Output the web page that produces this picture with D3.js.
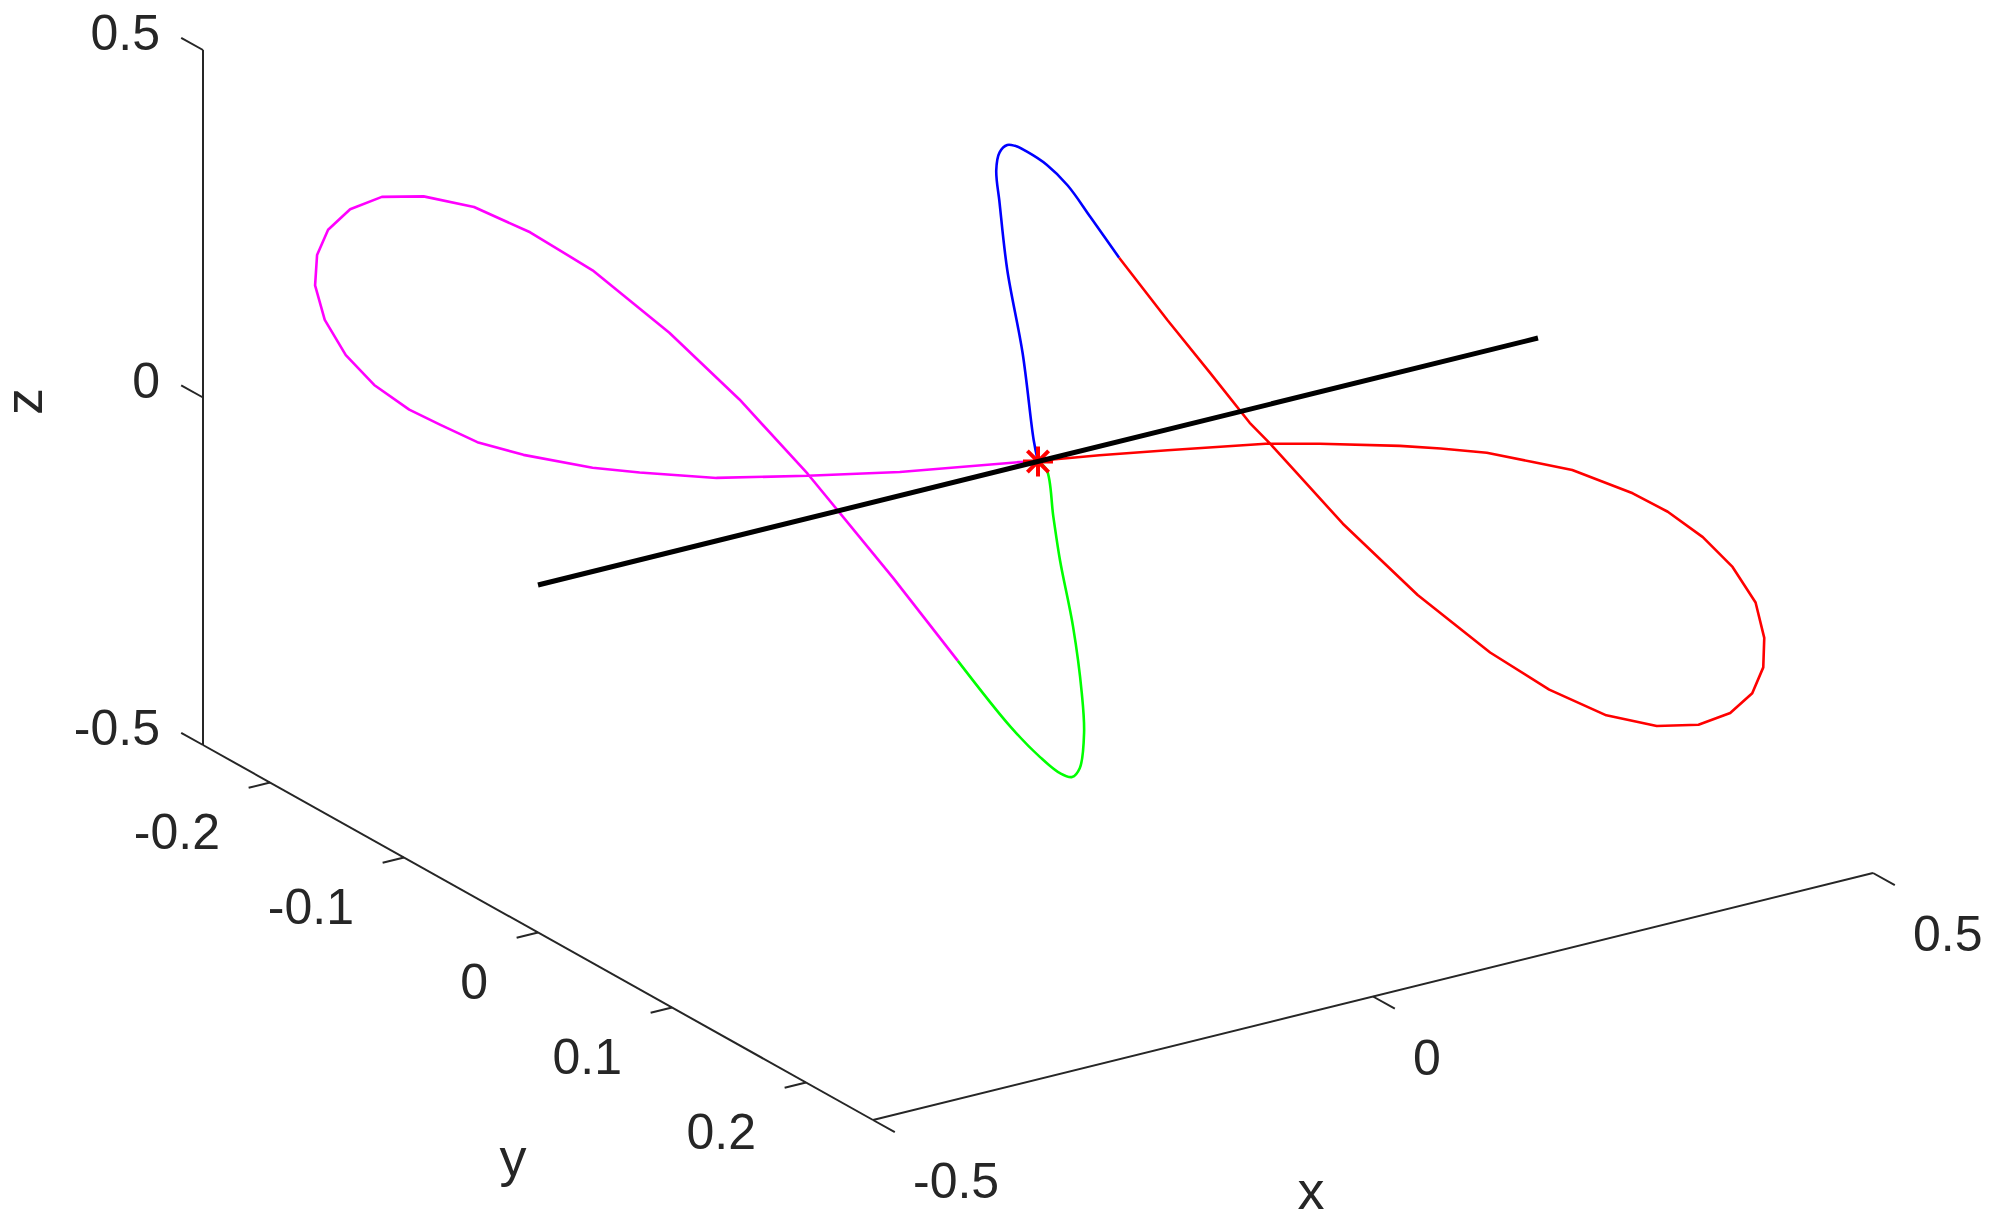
<!DOCTYPE html>
<html>
<head>
<meta charset="utf-8">
<script src="https://cdn.jsdelivr.net/npm/d3@7"></script>
<style>
  body { margin: 0; background: #fff; }
  text { font-family: "Liberation Sans", Arial, sans-serif; fill: #262626; }
</style>
</head>
<body>
<svg id="chart" width="2000" height="1221"></svg>
<script>
// ticks
var xTicks = [-0.5, 0, 0.5];
var yTicks = [-0.2, -0.1, 0, 0.1, 0.2];
var zTicks = [-0.5, 0, 0.5];

// curve (depth is a guess, the view only fixes 2 of 3 coords)
var blueX = [0, -0.003, -0.010, -0.020, -0.025, -0.027, -0.025, -0.020, -0.015, -0.007, 0.006, 0.019, 0.034, 0.053];
var blueY = [0, -0.001, -0.004, -0.008, -0.010, -0.011, -0.010, -0.008, -0.006, -0.003, 0.002, 0.008, 0.014, 0.021];
var blueZ = [0, 0.031, 0.155, 0.274, 0.370, 0.417, 0.443, 0.454, 0.453, 0.445, 0.427, 0.399, 0.354, 0.297];

var redX = [0.053, 0.084, 0.112, 0.138, 0.151, 0.171, 0.199, 0.247, 0.294, 0.333, 0.370, 0.403, 0.430, 0.451, 0.465, 0.472, 0.473, 0.467, 0.452, 0.433, 0.410, 0.387, 0.348, 0.322, 0.292, 0.262, 0.236, 0.184, 0.151, 0.084, 0.040, 0.008, 0];
var redY = [0.021, 0.034, 0.045, 0.055, 0.060, 0.068, 0.079, 0.099, 0.118, 0.133, 0.148, 0.161, 0.172, 0.180, 0.186, 0.189, 0.189, 0.187, 0.181, 0.173, 0.164, 0.155, 0.139, 0.129, 0.117, 0.105, 0.094, 0.073, 0.060, 0.034, 0.016, 0.003, 0];
var redZ = [0.297, 0.210, 0.136, 0.066, 0.038, -0.009, -0.075, -0.173, -0.252, -0.303, -0.337, -0.350, -0.346, -0.328, -0.298, -0.260, -0.218, -0.167, -0.117, -0.076, -0.041, -0.016, 0.014, 0.024, 0.035, 0.039, 0.040, 0.039, 0.037, 0.023, 0.012, 0.003, 0];

var magentaX = [0, -0.012, -0.090, -0.150, -0.209, -0.259, -0.290, -0.335, -0.365, -0.389, -0.409, -0.432, -0.451, -0.464, -0.471, -0.469, -0.462, -0.448, -0.427, -0.400, -0.367, -0.331, -0.290, -0.240, -0.194, -0.150, -0.094, -0.052];
var magentaY = [0, -0.005, -0.036, -0.060, -0.084, -0.104, -0.116, -0.134, -0.146, -0.156, -0.164, -0.173, -0.180, -0.186, -0.188, -0.188, -0.185, -0.179, -0.171, -0.160, -0.147, -0.132, -0.116, -0.096, -0.078, -0.060, -0.038, -0.021];
var magentaZ = [0, -0.002, -0.022, -0.032, -0.040, -0.036, -0.031, -0.016, 0.000, 0.023, 0.043, 0.077, 0.119, 0.168, 0.218, 0.261, 0.298, 0.329, 0.348, 0.351, 0.338, 0.305, 0.253, 0.167, 0.074, -0.029, -0.175, -0.291];

var greenX = [-0.052, -0.018, 0.001, 0.014, 0.022, 0.027, 0.030, 0.029, 0.023, 0.014, 0.010, 0.006, 0];
var greenY = [-0.021, -0.007, 0.001, 0.006, 0.009, 0.011, 0.012, 0.011, 0.009, 0.006, 0.004, 0.002, 0];
var greenZ = [-0.291, -0.383, -0.425, -0.447, -0.452, -0.439, -0.388, -0.331, -0.236, -0.141, -0.079, -0.012, 0];

// black line along x through the origin, and the marked point
var axisLineX = [-0.5, 0.5];
var axisLineY = [0, 0];
var axisLineZ = [0, 0];
var markX = 0, markY = 0, markZ = 0;

var svg = d3.select("#chart");

// fixed 3d view: each coordinate adds a screen offset (from the corner x=-0.5,y=-0.25,z=-0.5)
var corner = [203, 745];
var xH = d3.scaleLinear().domain([-0.5, 0.5]).range([0, 1000]);
var xV = d3.scaleLinear().domain([-0.5, 0.5]).range([0, -247]);
var yH = d3.scaleLinear().domain([-0.25, 0.25]).range([0, 670]);
var yV = d3.scaleLinear().domain([-0.25, 0.25]).range([0, 375]);
var zV = d3.scaleLinear().domain([-0.5, 0.5]).range([0, -695]);

function proj(x, y, z) {
  return [corner[0] + xH(x) + yH(y), corner[1] + xV(x) + yV(y) + zV(z)];
}

function zip(xs, ys, zs) {
  return xs.map(function(d, i) { return proj(d, ys[i], zs[i]); });
}

var line = d3.line();
var smooth = d3.line().curve(d3.curveCatmullRom.alpha(0.5));

// unit directions for the tick marks
var exLen = Math.hypot(xH(0.5) - xH(-0.5), xV(0.5) - xV(-0.5));
var ex = [(xH(0.5) - xH(-0.5)) / exLen, (xV(0.5) - xV(-0.5)) / exLen];
var eyLen = Math.hypot(yH(0.25) - yH(-0.25), yV(0.25) - yV(-0.25));
var ey = [(yH(0.25) - yH(-0.25)) / eyLen, (yV(0.25) - yV(-0.25)) / eyLen];
var tickLen = 25;

function fmt(t) { return String(t); }  // plain hyphen minus like the original

var axes = svg.append("g").attr("stroke", "#262626").attr("stroke-width", 2).attr("fill", "none");

// z axis
axes.append("path").attr("d", line([proj(-0.5, -0.25, -0.5), proj(-0.5, -0.25, 0.5)]));
// y axis
axes.append("path").attr("d", line([proj(-0.5, -0.25, -0.5), proj(-0.5, 0.25, -0.5)]));
// x axis
axes.append("path").attr("d", line([proj(-0.5, 0.25, -0.5), proj(0.5, 0.25, -0.5)]));

zTicks.forEach(function(t) {
  var p = proj(-0.5, -0.25, t);
  axes.append("path").attr("d", line([p, [p[0] - ey[0] * tickLen, p[1] - ey[1] * tickLen]]));
  svg.append("text").attr("x", p[0] - 43).attr("y", p[1])
    .attr("text-anchor", "end").attr("font-size", 50).text(fmt(t));
});

yTicks.forEach(function(t) {
  var p = proj(-0.5, t, -0.5);
  axes.append("path").attr("d", line([p, [p[0] - ex[0] * 22, p[1] - ex[1] * 22]]));
  svg.append("text").attr("x", p[0] - 50).attr("y", p[1] + 66)
    .attr("text-anchor", "end").attr("font-size", 50).text(fmt(t));
});

xTicks.forEach(function(t) {
  var p = proj(t, 0.25, -0.5);
  axes.append("path").attr("d", line([p, [p[0] + ey[0] * tickLen, p[1] + ey[1] * tickLen]]));
  svg.append("text").attr("x", p[0] + 40).attr("y", p[1] + 78)
    .attr("text-anchor", "start").attr("font-size", 50).text(fmt(t));
});

// axis titles
var xMid = proj(0, 0.25, -0.5);
svg.append("text").attr("x", xMid[0] - 62).attr("y", xMid[1] + 212)
  .attr("text-anchor", "middle").attr("font-size", 54).text("x");
var yMid = proj(-0.5, 0, -0.5);
svg.append("text").attr("x", yMid[0] - 25).attr("y", yMid[1] + 243)
  .attr("text-anchor", "middle").attr("font-size", 54).text("y");
var zMid = proj(-0.5, -0.25, 0);
svg.append("text").attr("transform", "translate(" + (zMid[0] - 161) + "," + (zMid[1] + 4) + ") rotate(-90)")
  .attr("text-anchor", "middle").attr("font-size", 54).text("z");

// curve pieces (the short loops are finely sampled in the original, the lobes are not)
var pieces = [
  {color: "#0000ff", pts: zip(blueX, blueY, blueZ), gen: smooth},
  {color: "#ff0000", pts: zip(redX, redY, redZ), gen: line},
  {color: "#ff00ff", pts: zip(magentaX, magentaY, magentaZ), gen: line},
  {color: "#00ff00", pts: zip(greenX, greenY, greenZ), gen: smooth}
];

svg.append("g").selectAll("path")
  .data(pieces)
  .enter().append("path")
    .attr("d", function(d) { return d.gen(d.pts); })
    .attr("fill", "none")
    .attr("stroke", function(d) { return d.color; })
    .attr("stroke-width", 2.6)
    .attr("stroke-linejoin", "round");

// marker: matlab style '*' (plus and cross together)
var m = proj(markX, markY, markZ);
var r = 15, rd = r * Math.SQRT1_2;
var star = d3.path();
star.moveTo(0, -r); star.lineTo(0, r);
star.moveTo(-r, 0); star.lineTo(r, 0);
star.moveTo(-rd, -rd); star.lineTo(rd, rd);
star.moveTo(-rd, rd); star.lineTo(rd, -rd);
svg.append("path")
  .attr("transform", "translate(" + m[0] + "," + m[1] + ")")
  .attr("d", star.toString())
  .attr("stroke", "#ff0000")
  .attr("stroke-width", 4)
  .attr("fill", "none");

// black line
svg.append("path")
  .attr("d", line(zip(axisLineX, axisLineY, axisLineZ)))
  .attr("stroke", "#000")
  .attr("stroke-width", 5)
  .attr("fill", "none");
</script>
</body>
</html>
